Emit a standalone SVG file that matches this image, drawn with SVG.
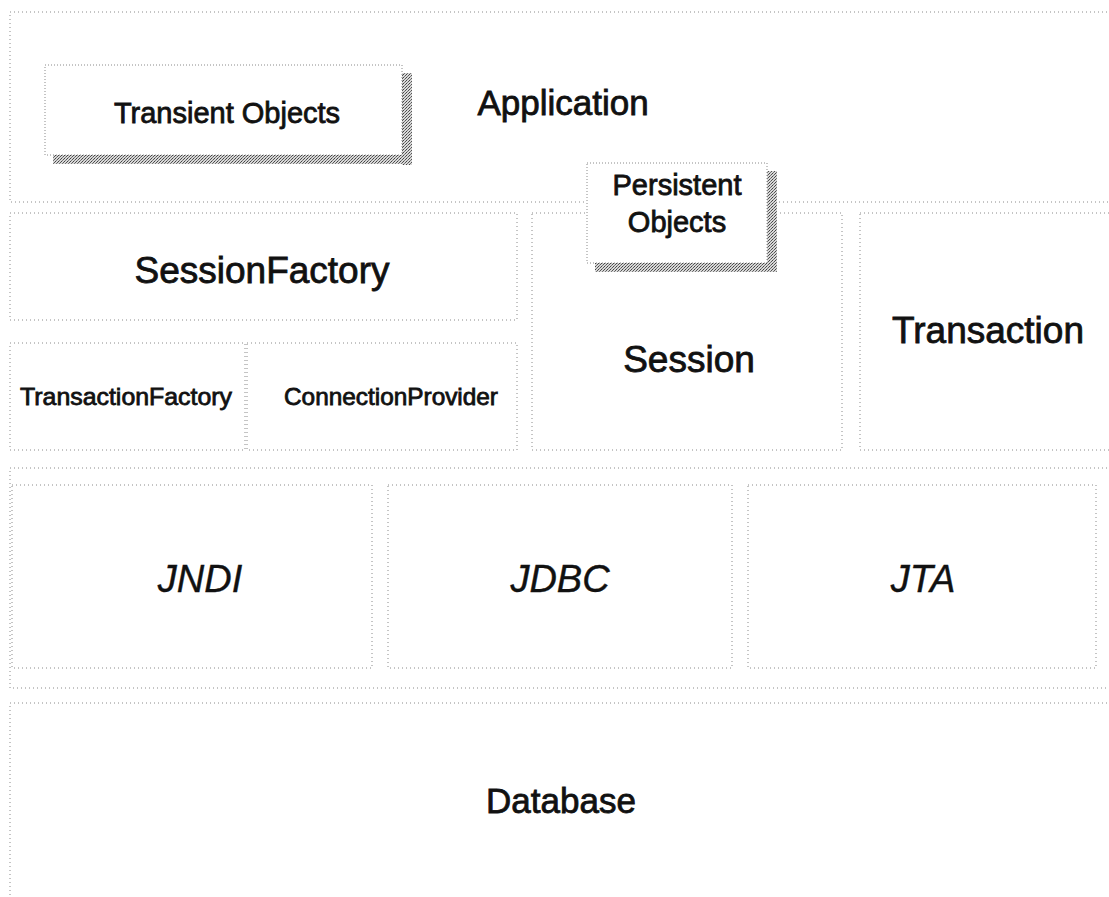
<svg xmlns="http://www.w3.org/2000/svg" width="1109" height="897" viewBox="0 0 1109 897">
  <style>
    .frame { fill: #ffffff; stroke: #8a8a8a; stroke-width: 1; stroke-dasharray: 1 3; }
    .card { fill: #ffffff; stroke: #8a8a8a; stroke-width: 1; stroke-dasharray: 1 2; }
    .shadow { fill: url(#stipple); }
    .label { font-family: "Liberation Sans", Arial, sans-serif; fill: #111111; stroke: #111111; stroke-width: 0.8; text-anchor: middle; }
    .big { font-size: 37px; }
    .mid { font-size: 35px; }
    .small { font-size: 29px; }
    .tiny { font-size: 24px; }
    .api { font-size: 38px; font-style: italic; stroke-width: 0.4; }
  </style>
  <defs>
    <!-- grainy grey fill used for the drop shadows -->
    <pattern id="stipple" width="3" height="3" patternUnits="userSpaceOnUse">
      <rect width="3" height="3" fill="#d8d8d8"/>
      <rect x="0" y="0" width="1" height="1" fill="#555555"/>
      <rect x="2" y="1" width="1" height="1" fill="#777777"/>
      <rect x="1" y="2" width="1" height="1" fill="#444444"/>
    </pattern>
  </defs>

  <rect width="1109" height="897" fill="#ffffff"/>

  <!-- application layer -->
  <g id="application">
    <rect class="frame" x="10" y="12" width="1110" height="190"/>
    <text class="label mid" x="563" y="115">Application</text>
  </g>

  <g id="transient-objects">
    <rect class="shadow" x="402" y="73" width="10" height="92"/>
    <rect class="shadow" x="53" y="155" width="359" height="9"/>
    <rect class="card" x="45" y="65" width="357" height="90"/>
    <text class="label small" x="227" y="123">Transient Objects</text>
  </g>

  <!-- core layer -->
  <g id="session-factory">
    <rect class="frame" x="10" y="213" width="507" height="107"/>
    <text class="label big" x="262" y="283">SessionFactory</text>
  </g>

  <g id="transaction-factory">
    <rect class="frame" x="10" y="343" width="235" height="107"/>
    <text class="label tiny" x="126" y="405" textLength="212" lengthAdjust="spacingAndGlyphs">TransactionFactory</text>
  </g>

  <g id="connection-provider">
    <rect class="frame" x="247" y="343" width="270" height="107"/>
    <text class="label tiny" x="391" y="405" textLength="214" lengthAdjust="spacingAndGlyphs">ConnectionProvider</text>
  </g>

  <g id="session">
    <rect class="frame" x="532" y="213" width="310" height="237"/>
    <text class="label big" x="689" y="372">Session</text>
  </g>

  <g id="transaction">
    <rect class="frame" x="860" y="213" width="260" height="237"/>
    <text class="label big" x="988" y="343">Transaction</text>
  </g>

  <g id="persistent-objects">
    <rect class="shadow" x="767" y="171" width="10" height="101"/>
    <rect class="shadow" x="595" y="263" width="182" height="9"/>
    <rect class="card" x="587" y="163" width="180" height="100"/>
    <text class="label small" x="677" y="195">Persistent</text>
    <text class="label small" x="677" y="232">Objects</text>
  </g>

  <!-- Java API layer -->
  <g id="java-apis">
    <rect class="frame" x="10" y="468" width="1110" height="220"/>
  </g>

  <g id="jndi">
    <rect class="frame" x="12" y="485" width="360" height="183"/>
    <text class="label api" x="200" y="592">JNDI</text>
  </g>

  <g id="jdbc">
    <rect class="frame" x="388" y="485" width="344" height="183"/>
    <text class="label api" x="560" y="592">JDBC</text>
  </g>

  <g id="jta">
    <rect class="frame" x="748" y="485" width="348" height="183"/>
    <text class="label api" x="923" y="592">JTA</text>
  </g>

  <!-- storage layer -->
  <g id="database">
    <rect class="frame" x="10" y="703" width="1110" height="220"/>
    <text class="label mid" x="561" y="813">Database</text>
  </g>

  <!-- no connectors in this layered view -->
  <g id="connectors"/>
</svg>
